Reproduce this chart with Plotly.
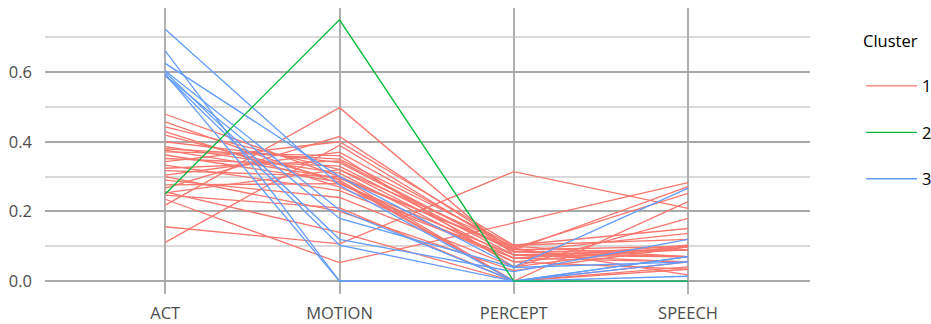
import plotly.graph_objects as go

variables = ["ACT", "MOTION", "PERCEPT", "SPEECH"]

# Cluster 1 (red) lines: values at ACT, MOTION, PERCEPT, SPEECH
c1_act = [0.479, 0.457, 0.443, 0.429, 0.419, 0.400, 0.386, 0.376, 0.371, 0.362,
          0.352, 0.343, 0.333, 0.324, 0.317, 0.304, 0.290, 0.276, 0.267, 0.253,
          0.247, 0.235, 0.218, 0.156, 0.111, 0.256, 0.300, 0.380]
c1_motion = [0.300, 0.280, 0.320, 0.270, 0.290, 0.340, 0.310, 0.295, 0.360, 0.285,
             0.330, 0.400, 0.260, 0.345, 0.300, 0.370, 0.240, 0.280, 0.415, 0.320,
             0.210, 0.053, 0.498, 0.107, 0.390, 0.140, 0.200, 0.350]
c1_percept = [0.090, 0.075, 0.100, 0.066, 0.000, 0.084, 0.055, 0.095, 0.041, 0.000,
              0.075, 0.103, 0.066, 0.084, 0.000, 0.095, 0.041, 0.055, 0.090, 0.066,
              0.000, 0.167, 0.075, 0.314, 0.084, 0.000, 0.030, 0.103]
c1_speech = [0.100, 0.055, 0.070, 0.090, 0.034, 0.137, 0.098, 0.018, 0.103, 0.041,
             0.070, 0.151, 0.055, 0.090, 0.000, 0.252, 0.180, 0.034, 0.271, 0.103,
             0.228, 0.283, 0.090, 0.209, 0.070, 0.055, 0.098, 0.120]

# Cluster 2 (green)
c2_act = [0.250]
c2_motion = [0.750]
c2_percept = [0.000]
c2_speech = [0.000]

# Cluster 3 (blue)
c3_act = [0.723, 0.661, 0.625, 0.604, 0.600, 0.595, 0.590, 0.590]
c3_motion = [0.275, 0.000, 0.300, 0.204, 0.120, 0.000, 0.103, 0.180]
c3_percept = [0.000, 0.000, 0.041, 0.000, 0.027, 0.000, 0.000, 0.039]
c3_speech = [0.070, 0.000, 0.267, 0.055, 0.120, 0.014, 0.070, 0.055]

clusters = [
    ("1", "#F8766D", c1_act, c1_motion, c1_percept, c1_speech),
    ("3", "#619CFF", c3_act, c3_motion, c3_percept, c3_speech),
    ("2", "#00BA38", c2_act, c2_motion, c2_percept, c2_speech),
]

fig = go.Figure()
xs = list(range(len(variables)))
for name, color, a, m, p, s in clusters:
    for i in range(len(a)):
        fig.add_trace(go.Scatter(
            x=xs, y=[a[i], m[i], p[i], s[i]],
            mode="lines",
            line=dict(color=color, width=1.3),
            name=name,
            legendgroup=name,
            legendrank=int(name),
            showlegend=(i == 0),
            hoverinfo="skip",
        ))

fig.update_layout(
    width=931, height=324,
    margin=dict(l=45, r=121, t=8, b=30, autoexpand=False),
    paper_bgcolor="white",
    plot_bgcolor="white",
    font=dict(family="Open Sans, DejaVu Sans, sans-serif", size=16, color="#4d4d4d"),
    legend=dict(
        title=dict(text="Cluster<br> ", font=dict(size=16.5, color="black")),
        font=dict(size=16.5, color="black"),
        x=1.0667, xanchor="left", y=0.938, yanchor="top",
        tracegroupgap=22,
        itemwidth=51,
        traceorder="grouped",
        bgcolor="rgba(0,0,0,0)",
    ),
    xaxis=dict(
        range=[-0.69, 3.7],
        tickvals=xs, ticktext=variables,
        showgrid=True, gridcolor="#b0b0b0", gridwidth=1.5,
        zeroline=False, showline=False, automargin=False,
        ticks="", ticklabelstandoff=7,
        tickfont=dict(size=16.5, color="#4d4d4d"),
    ),
    yaxis=dict(
        range=[-0.037, 0.784],
        tickvals=[0, 0.2, 0.4, 0.6], ticktext=["0.0", "0.2", "0.4", "0.6"],
        showgrid=True, gridcolor="#a9a9a9", gridwidth=1.6,
        minor=dict(tickvals=[0.1, 0.3, 0.5, 0.7], showgrid=True, gridcolor="#d9d9d9", gridwidth=1.6),
        zeroline=False, showline=False, automargin=False,
        ticks="", ticklabelstandoff=12,
        tickfont=dict(size=16.5, color="#4d4d4d"),
    ),
)

fig.write_html(
    "out.html",
    config={"displayModeBar": False},
    post_script="document.body.style.margin='0';document.body.style.overflow='hidden';",
)
